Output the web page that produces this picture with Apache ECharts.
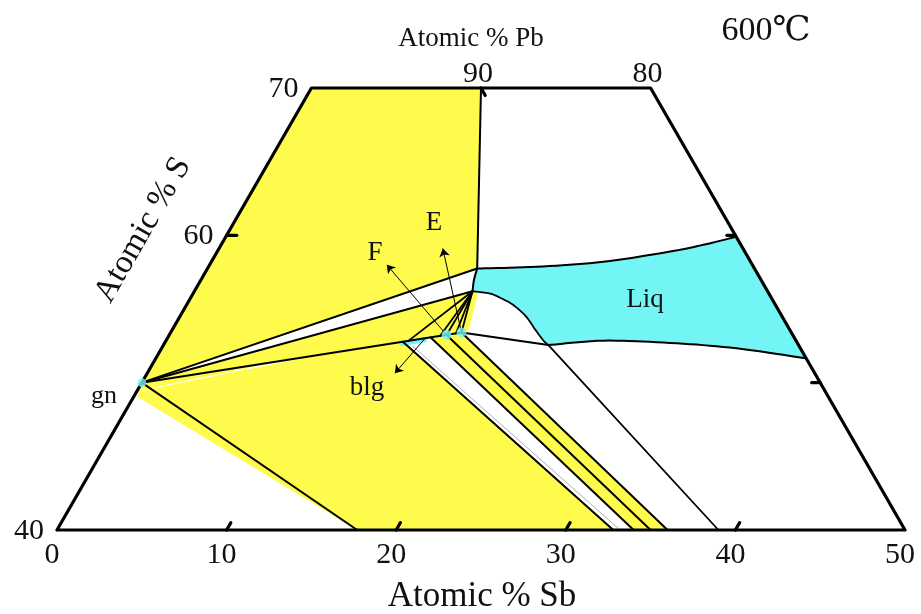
<!DOCTYPE html>
<html><head><meta charset="utf-8">
<script src="https://cdn.jsdelivr.net/npm/echarts/dist/echarts.min.js"></script>
<style>html,body{margin:0;padding:0;background:#fff}#c{width:921px;height:614px}</style>
</head><body><div id="c"></div>
<script>
// ---- data: ternary compositions as [Atomic % Sb, Atomic % S] ----
const frame = [[0,40],[0,70],[20,70],[50,40],[0,40]];
const sbTicks = [0,10,20,30,40,50];
const sTicks = [40,60,70];
const pbTickLabels = ['90','80'];
const pbTickSb = [10,20];

const gn = [0,50];
const vertexP = [16.4,56.2];
const liqCorner = [15.9,57.75];
const dotF = [16.35,53.24];
const dotE = [17.15,53.4];
const blgSeg = [[14.0,52.66],[15.2,52.9]];

const upperYellow = [[0,50],[0,70],[10,70],[15.9,57.75]];
const midYellow = [[0,50],[16.4,56.2],[16.8,56.0],[17.45,53.6],[17.15,53.4]];
const lowYellow = [[0,50],[14.0,52.78],[32.8,40],[17.7,40],[0.26,49.03]];
const stripYellow = [[15.5,53.07],[17.15,53.4],[36.0,40],[34.0,40]];

const liqTop = [[15.9,57.75],[19.35,57.87],[23.1,58.2],[26.7,58.9],[28.25,59.3],[30.1,59.9]];
const liqRight = [[30.1,59.9],[38.35,51.65]];
const liqBottom = [[38.35,51.65],[33.9,52.33],[29.8,52.7],[25.8,52.85],[22.7,52.55]];
const liqLowerCurve = [[22.7,52.55],[22.2,52.9],[21.4,53.6],[20.4,54.5],[19.3,55.25],[18.5,55.65],[17.5,56.05],[16.4,56.2]];
const liqLeft = [[16.4,56.2],[16.1,56.97],[15.9,57.75]];
const line5 = [[22.7,52.55],[39.0,40]];

const verticalLine = [[10,70],[15.9,57.75]];
const tieLines = [
  [[0,50],[15.9,57.75]],
  [[0,50],[16.4,56.2]],
  [[0,50],[17.15,53.4],[22.7,52.55]],
  [[0,50],[17.7,40]]
];
const diagLines = [
  [[14.0,52.78],[32.8,40]],
  [[15.5,53.07],[34.0,40]],
  [[16.35,53.24],[35.0,40]],
  [[17.15,53.4],[36.0,40]]
];
const fanEnds = [[14.3,52.835],[16.0,53.17],[16.35,53.24],[16.85,53.34],[17.15,53.4]];
const greyLine = [[14.7,52.5],[33.2,40]];
const whiteLine = [[0.32,49.5],[8.5,51.67]];
const arrows = [
  [[16.35,53.24],[10.45,58.0]],
  [[17.15,53.4],[13.2,59.1]],
  [[15.2,53.0],[14.6,50.64]]
];
const tickSegs = [
  [[10,40],[10,40.5]],[[20,40],[20,40.5]],[[30,40],[30,40.5]],[[40,40],[40,40.5]],
  [[0,60],[0.6,60]],[[10,70],[10.5,69.5]],
  [[30,60],[29.5,60]],[[40,50],[39.5,50]]
];

const YELLOW = '#fffb4c', CYAN = '#73f5f5';
const R3 = Math.sqrt(3)/2;
const toXY = p => [p[0] + (p[1]-40)/2, (p[1]-40)*R3];

// Catmull-Rom densification in pixel space (rendering only)
function dens(pts, n){
  if (pts.length < 3) return pts.slice();
  const out = [];
  for (let i=0;i<pts.length-1;i++){
    const p0 = pts[Math.max(i-1,0)], p1 = pts[i], p2 = pts[i+1], p3 = pts[Math.min(i+2,pts.length-1)];
    for (let k=0;k<n;k++){
      const t = k/n, t2=t*t, t3=t2*t;
      const f = (a,b,c,d)=>0.5*((2*b)+(-a+c)*t+(2*a-5*b+4*c-d)*t2+(-a+3*b-3*c+d)*t3);
      out.push([f(p0[0],p1[0],p2[0],p3[0]), f(p0[1],p1[1],p2[1],p3[1])]);
    }
  }
  out.push(pts[pts.length-1]);
  return out;
}

function polySeries(pts, color){
  const d = pts.map(toXY);
  return {type:'custom', silent:true, z:1, animation:false, clip:false, data:d,
    renderItem:(params, api)=> params.dataIndex!==0 ? null :
      ({type:'polygon', shape:{points:d.map(p=>api.coord(p))}, style:{fill:color, stroke:color, lineWidth:0.5}})};
}
function curveFillSeries(pieces, color){
  const all = [].concat(...pieces).map(toXY);
  return {type:'custom', silent:true, z:1, animation:false, clip:false, data:all,
    renderItem:(params, api)=>{
      if (params.dataIndex!==0) return null;
      let pts = [];
      pieces.forEach(pc=>{ pts = pts.concat(dens(pc.map(toXY).map(p=>api.coord(p)), 10)); });
      return {type:'polygon', shape:{points:pts}, style:{fill:color, stroke:color, lineWidth:0.5}};
    }};
}
function curveLineSeries(pts, color, width){
  const d = pts.map(toXY);
  return {type:'custom', silent:true, z:3, animation:false, clip:false, data:d,
    renderItem:(params, api)=> params.dataIndex!==0 ? null :
      ({type:'polyline', shape:{points:dens(d.map(p=>api.coord(p)), 10)},
        style:{stroke:color, lineWidth:width, fill:null, lineJoin:'round', lineCap:'round'}})};
}
function lineSeries(pts, color, width, z){
  return {type:'line', data:pts.map(toXY), symbol:'none', showSymbol:false, silent:true, animation:false,
    clip:false, z:z||3, lineStyle:{color:color, width:width, cap:'round', join:'round'}};
}

const series = [];
series.push(polySeries(upperYellow, YELLOW));
series.push(polySeries(midYellow, YELLOW));
series.push(polySeries(lowYellow, YELLOW));
series.push(polySeries(stripYellow, YELLOW));
series.push(curveFillSeries([liqTop, liqRight, liqBottom, liqLowerCurve, liqLeft], CYAN));
series.push(lineSeries(whiteLine, '#ffffff', 1.2, 2));
series.push(lineSeries(greyLine, '#b0b0b0', 1, 2));
series.push(lineSeries(blgSeg, CYAN, 5, 2));
series.push(lineSeries(verticalLine, '#000', 2));
tieLines.forEach(l=>series.push(lineSeries(l, '#000', 2)));
diagLines.forEach(l=>series.push(lineSeries(l, '#000', 2)));
fanEnds.forEach(e=>series.push(lineSeries([vertexP, e], '#000', 1.8)));
series.push(curveLineSeries(liqTop, '#000', 2));
series.push(curveLineSeries(liqBottom, '#000', 2));
series.push(curveLineSeries(liqLeft, '#000', 2));
series.push(curveLineSeries(liqLowerCurve, '#000', 1.8));
series.push(lineSeries(line5, '#000', 1.8));
series.push(lineSeries(frame, '#000', 3.2, 5));
tickSegs.forEach(t=>series.push(lineSeries(t, '#000', 3.2, 5)));
series.push({type:'lines', coordinateSystem:'cartesian2d', silent:true, animation:false, z:6,
  symbol:['none','arrow'], symbolSize:8,
  lineStyle:{color:'#000', width:1, opacity:1},
  data: arrows.map(a=>({coords:a.map(toXY)}))});
series.push({type:'scatter', silent:true, animation:false, z:7, symbol:'circle', symbolSize:10,
  itemStyle:{color:CYAN}, data:[dotF, dotE].map(toXY)});
series.push({type:'scatter', silent:true, animation:false, z:7, symbol:'circle', symbolSize:9,
  itemStyle:{color:CYAN}, data:[gn].map(toXY)});

const chart = echarts.init(document.getElementById('c'), null, {renderer:'canvas'});
chart.setOption({
  backgroundColor:'#fff',
  animation:false,
  grid:{left:57, right:16, top:88, bottom:84},
  xAxis:{type:'value', min:0, max:50, show:false},
  yAxis:{type:'value', min:0, max:30*R3, show:false},
  series: series
});

const FONT = '"Liberation Serif","DejaVu Serif",serif';
const px = p => chart.convertToPixel({gridIndex:0}, toXY(p));
function txt(x, y, s, size, rot){
  return {type:'text', x:x, y:y, rotation:rot||0, silent:true, z:100,
    style:{text:s, x:0, y:0, font:size+'px '+FONT, fill:'#111',
      textAlign:'center', textVerticalAlign:'middle', align:'center', verticalAlign:'middle'}};
}
const g = [];
sbTicks.forEach(v=>{ const p = px([v,40]); g.push(txt(p[0]-5, p[1]+25, String(v), 30)); });
sTicks.forEach(v=>{ const p = px([0,v]); g.push(txt(p[0]-28, p[1]+1, String(v), 30)); });
pbTickLabels.forEach((s,i)=>{ const p = px([pbTickSb[i],70]); g.push(txt(p[0]-3, p[1]-14, s, 30)); });
g.push(txt(471, 39, 'Atomic % Pb', 27));
g.push(txt(482, 597, 'Atomic % Sb', 35));
g.push(txt(143, 230, 'Atomic % S', 33, Math.PI/3));
g.push(txt(766, 31, '600℃', 34));
g.push(txt(645, 300, 'Liq', 27));
g.push(txt(375, 253, 'F', 27));
g.push(txt(434, 223, 'E', 27));
g.push(txt(367, 388, 'blg', 27));
g.push(txt(104, 396, 'gn', 26));
chart.setOption({graphic:g});
</script></body></html>
